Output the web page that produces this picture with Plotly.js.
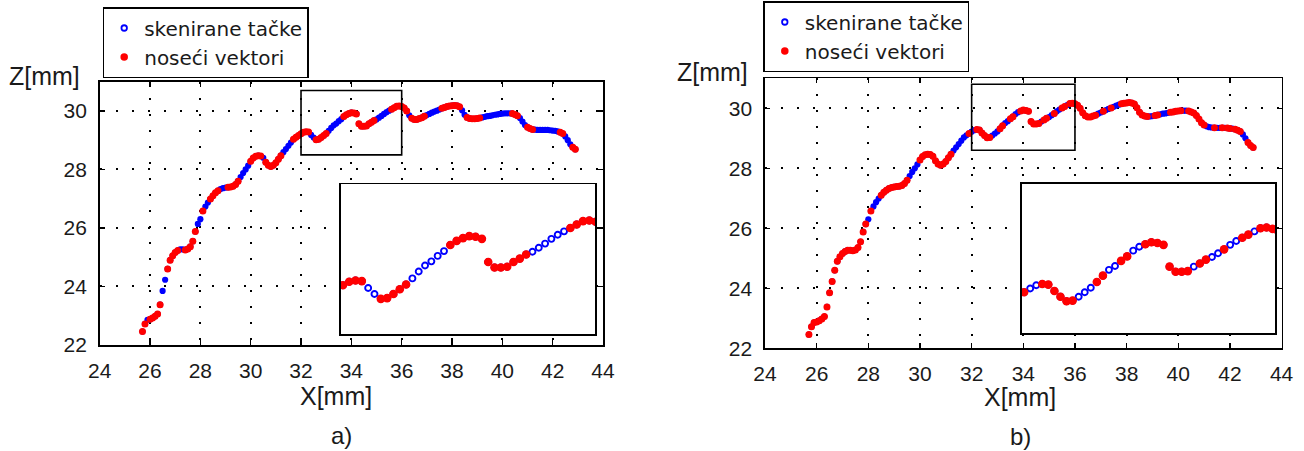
<!DOCTYPE html>
<html><head><meta charset="utf-8">
<script src="https://cdn.plot.ly/plotly-3.0.1.min.js"></script>
<style>html,body{margin:0;padding:0;background:#fff}#chart{width:1304px;height:451px}</style>
</head><body><div id="chart"></div>
<script>
// scanned profile: X[mm], Z[mm]
const scanX = [25.7,25.8,25.9,
 26.0,26.1,26.2,26.3,26.4,26.5,26.6,26.7,26.8,26.9,
 27.0,27.1,27.2,27.3,27.4,27.5,27.6,27.7,27.8,27.9,
 28.0,28.1,28.2,28.3,28.4,28.5,28.6,28.7,28.8,28.9,
 29.0,29.1,29.2,29.3,29.4,29.5,29.6,29.7,29.8,29.9,
 30.0,30.1,30.2,30.3,30.4,30.5,30.6,30.7,30.8,30.9,
 31.0,31.1,31.2,31.3,31.4,31.5,31.6,31.7,31.8,31.9,
 32.0,32.1,32.2,32.3,32.4,32.5,32.6,32.7,32.8,32.9,
 33.0,33.1,33.2,33.3,33.4,33.5,33.6,33.7,33.8,33.9,
 34.0,34.1,34.2,34.3,34.4,34.5,34.6,34.7,34.8,34.9,
 35.0,35.1,35.2,35.3,35.4,35.5,35.6,35.7,35.8,35.9,
 36.0,36.1,36.2,36.3,36.4,36.5,36.6,36.7,36.8,36.9,
 37.0,37.1,37.2,37.3,37.4,37.5,37.6,37.7,37.8,37.9,
 38.0,38.1,38.2,38.3,38.4,38.5,38.6,38.7,38.8,38.9,
 39.0,39.1,39.2,39.3,39.4,39.5,39.6,39.7,39.8,39.9,
 40.0,40.1,40.2,40.3,40.4,40.5,40.6,40.7,40.8,40.9,
 41.0,41.1,41.2,41.3,41.4,41.5,41.6,41.7,41.8,41.9,
 42.0,42.1,42.2,42.3,42.4,42.5,42.6,42.7,42.8,42.9];
const scanZ = [22.46,22.72,22.86,
 22.88,22.92,22.98,23.06,23.38,23.85,24.23,24.60,24.90,25.05,
 25.16,25.23,25.27,25.27,25.25,25.28,25.36,25.55,25.88,26.14,
 26.30,26.58,26.73,26.87,26.99,27.10,27.20,27.27,27.33,27.36,
 27.38,27.39,27.40,27.43,27.49,27.60,27.74,27.88,28.00,28.13,
 28.28,28.39,28.45,28.47,28.46,28.40,28.25,28.14,28.10,28.14,
 28.23,28.35,28.47,28.59,28.70,28.81,28.92,29.03,29.10,29.16,
 29.22,29.27,29.29,29.28,29.18,29.09,29.02,29.03,29.09,29.16,
 29.23,29.32,29.42,29.51,29.57,29.65,29.72,29.81,29.87,29.91,
 29.94,29.93,29.90,29.56,29.48,29.48,29.49,29.56,29.61,29.67,
 29.71,29.77,29.83,29.90,29.96,30.01,30.06,30.11,30.16,30.17,
 30.15,30.10,30.00,29.85,29.75,29.71,29.71,29.74,29.77,29.82,
 29.86,29.90,29.94,29.98,30.01,30.05,30.09,30.12,30.15,30.17,
 30.18,30.19,30.18,30.14,30.02,29.87,29.78,29.74,29.73,29.73,
 29.74,29.76,29.78,29.80,29.82,29.83,29.85,29.87,29.88,29.90,
 29.91,29.92,29.92,29.92,29.91,29.88,29.84,29.76,29.64,29.52,
 29.44,29.40,29.37,29.36,29.35,29.35,29.35,29.35,29.35,29.34,
 29.33,29.32,29.30,29.27,29.23,29.13,29.00,28.86,28.76,28.69];
// 1 = point selected as "noseći vektor" (panel a)
const vectorsA = [1,1,0,
 1,1,1,1,1,0,0,1,1,1,
 1,1,0,0,1,1,1,1,1,0,
 0,1,0,0,1,1,1,1,0,0,
 0,1,1,1,1,1,0,0,0,0,
 1,1,1,1,1,0,1,1,1,1,
 1,1,1,0,0,0,0,1,1,1,
 1,1,1,1,0,0,1,1,1,1,
 1,0,0,0,0,0,0,1,1,1,
 1,1,1,1,1,1,1,1,1,1,
 0,0,0,0,0,0,1,1,1,1,
 1,1,1,0,1,1,1,1,1,1,
 0,0,0,0,0,0,1,1,1,1,
 1,1,1,1,0,0,1,1,1,1,
 1,1,0,0,0,0,0,0,0,0,
 0,0,0,0,1,1,1,0,0,0,
 1,1,1,0,0,0,0,0,0,0,
 0,0,0,1,1,0,0,0,1,1];
// 1 = point selected as "noseći vektor" (panel b)
const vectorsB = [1,1,1,
 1,1,1,1,1,1,1,1,1,1,
 1,1,1,1,1,1,1,1,1,1,
 0,1,0,0,0,1,1,1,1,1,
 1,1,1,1,1,1,0,0,0,0,
 1,1,1,1,1,1,1,1,1,1,
 1,1,1,0,0,0,0,0,0,1,
 0,0,1,1,1,1,1,1,0,0,
 0,1,1,0,0,1,1,0,0,1,
 1,1,1,1,1,1,1,0,1,1,
 0,0,1,0,0,1,1,0,1,1,
 1,1,1,1,1,1,1,1,1,0,
 0,1,0,0,1,0,0,0,1,1,
 1,1,1,1,1,1,1,1,1,0,
 0,1,1,0,0,0,0,1,1,1,
 1,1,0,0,1,1,1,1,1,1,
 1,0,0,0,1,0,0,1,0,1,
 1,0,1,1,1,0,0,1,1,1];
const xTicks = [24,26,28,30,32,34,36,38,40,42,44];
const zTicks = [22,24,26,28,30];
const seriesNames = ['skenirane tačke', 'noseći vektori'];
const panelLabels = ['a)', 'b)'];
const xTitle = 'X[mm]';
const zTitle = 'Z[mm]';

const BLUE = '#0000ff', RED = '#ff0000', INK = '#1a1a1a';
const FONT = 'Liberation Sans, Arial, Helvetica, sans-serif';

function pick(arr, mask){ return arr.filter((v,i)=>mask[i]===1); }

function panelTraces(xa, ya, xi, yi, mask, legendId){
  const rx = pick(scanX, mask), rz = pick(scanZ, mask);
  return [
    // legend entries (symbols as in the original legend)
    {type:'scatter', mode:'markers', x:[null], y:[null], xaxis:xa, yaxis:ya, name:seriesNames[0], legend:legendId,
     marker:{symbol:'circle-open', size:5.5, color:BLUE, line:{width:1.8, color:BLUE}}, hoverinfo:'skip'},
    {type:'scatter', mode:'markers', x:[null], y:[null], xaxis:xa, yaxis:ya, name:seriesNames[1], legend:legendId,
     marker:{symbol:'circle', size:7.5, color:RED}, hoverinfo:'skip'},
    // main plot: dense scan
    {type:'scatter', mode:'markers', x:scanX, y:scanZ, xaxis:xa, yaxis:ya, showlegend:false,
     marker:{symbol:'circle', size:6.2, color:BLUE}, hoverinfo:'skip'},
    {type:'scatter', mode:'markers', x:rx, y:rz, xaxis:xa, yaxis:ya, showlegend:false,
     marker:{symbol:'circle', size:7, color:RED}, hoverinfo:'skip'},
    // zoomed inset
    {type:'scatter', mode:'markers', x:scanX, y:scanZ, xaxis:xi, yaxis:yi, showlegend:false,
     marker:{symbol:'circle-open', size:6, color:BLUE, line:{width:1.9, color:BLUE}}, hoverinfo:'skip'},
    {type:'scatter', mode:'markers', x:rx, y:rz, xaxis:xi, yaxis:yi, showlegend:false,
     marker:{symbol:'circle', size:8.6, color:RED}, hoverinfo:'skip'}
  ];
}

const data = [].concat(
  panelTraces('x','y','x2','y2', vectorsA, 'legend'),
  panelTraces('x3','y3','x4','y4', vectorsB, 'legend2')
);

const W = 1304, H = 451;
const px = v => v / W, py = v => 1 - v / H;

const gridStyle = {showgrid:true, gridcolor:'#000', gridwidth:2, griddash:'2px,14px'};
function mainX(domain, anchor){
  return Object.assign({domain:domain, anchor:anchor, range:[24,44], tickvals:xTicks, ticktext:xTicks.map(String),
    showline:true, linecolor:'#000', linewidth:1.6, mirror:'ticks',
    ticks:'inside', ticklen:5, tickwidth:1.3, tickcolor:'#000',
    zeroline:false, tickfont:{size:21, color:INK}, ticklabelstandoff:6, fixedrange:true}, gridStyle);
}
function mainY(domain, anchor){
  return Object.assign({domain:domain, anchor:anchor, range:[22,31], tickvals:zTicks, ticktext:zTicks.map(String),
    showline:true, linecolor:'#000', linewidth:1.6, mirror:'ticks',
    ticks:'inside', ticklen:5, tickwidth:1.3, tickcolor:'#000',
    zeroline:false, tickfont:{size:21, color:INK}, ticklabelstandoff:7, fixedrange:true}, gridStyle);
}
function insetAxis(domain, anchor, range){
  return {domain:domain, anchor:anchor, range:range, showgrid:false, zeroline:false,
    showticklabels:false, ticks:'', showline:true, linecolor:'#000', linewidth:1.6, mirror:true, fixedrange:true};
}

const legendStyle = {xanchor:'left', yanchor:'top', bgcolor:'#fff', bordercolor:'#000', borderwidth:1.5,
  font:{size:20, color:INK, family:'DejaVu Sans, Liberation Sans, sans-serif'}, itemclick:false, itemdoubleclick:false};

const layout = {
  width:W, height:H, margin:{l:0,r:0,t:0,b:0},
  paper_bgcolor:'#fff', plot_bgcolor:'#fff',
  font:{family:FONT, color:INK, size:21},
  showlegend:true,
  legend:Object.assign({x:px(102.7), y:py(7)}, legendStyle),
  legend2:Object.assign({x:px(763.3), y:py(1)}, legendStyle),
  xaxis: mainX([px(99.7), px(603)], 'y'),
  yaxis: mainY([py(345), py(81.7)], 'x'),
  xaxis2: insetAxis([px(341), px(595)], 'y2', [31.97, 35.99]),
  yaxis2: insetAxis([py(334.3), py(184.3)], 'x2', [28.5, 30.7]),
  xaxis3: mainX([px(765), px(1281.6)], 'y3'),
  yaxis3: mainY([py(348.3), py(78.3)], 'x3'),
  xaxis4: insetAxis([px(1021.7), px(1275)], 'y4', [31.86, 36.04]),
  yaxis4: insetAxis([py(333.3), py(184)], 'x4', [28.52, 30.85]),
  shapes:[
    {type:'rect', xref:'x', yref:'y', x0:32, x1:36, y0:28.5, y1:30.7, line:{color:'#000', width:1.6}},
    {type:'rect', xref:'x3', yref:'y3', x0:32, x1:36, y0:28.6, y1:30.8, line:{color:'#000', width:1.6}}
  ],
  annotations:[
    {text:zTitle, xref:'paper', yref:'paper', x:px(44.5), y:py(76), xanchor:'center', yanchor:'middle', showarrow:false, font:{size:25}},
    {text:xTitle, xref:'paper', yref:'paper', x:px(336), y:py(396), xanchor:'center', yanchor:'middle', showarrow:false, font:{size:25}},
    {text:panelLabels[0], xref:'paper', yref:'paper', x:px(341), y:py(435), xanchor:'center', yanchor:'middle', showarrow:false, font:{size:24}},
    {text:zTitle, xref:'paper', yref:'paper', x:px(712.5), y:py(71.7), xanchor:'center', yanchor:'middle', showarrow:false, font:{size:25}},
    {text:xTitle, xref:'paper', yref:'paper', x:px(1020), y:py(396.7), xanchor:'center', yanchor:'middle', showarrow:false, font:{size:25}},
    {text:panelLabels[1], xref:'paper', yref:'paper', x:px(1020), y:py(436.7), xanchor:'center', yanchor:'middle', showarrow:false, font:{size:24}}
  ]
};

Plotly.newPlot('chart', data, layout, {staticPlot:true, displayModeBar:false});
</script>
</body></html>
